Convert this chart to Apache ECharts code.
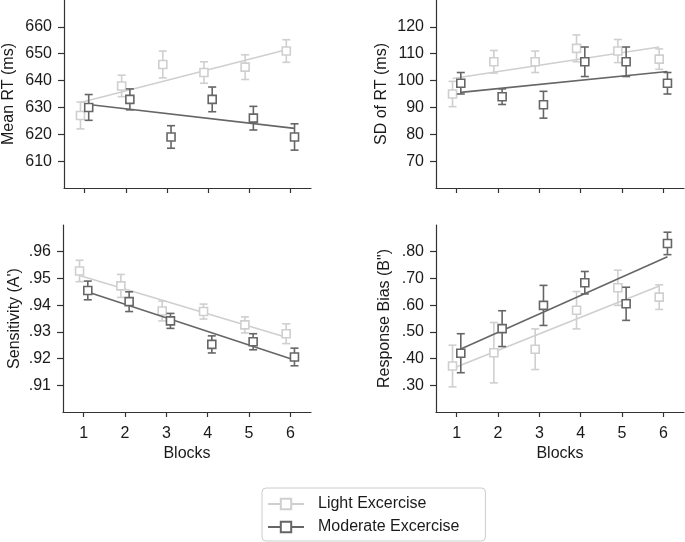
<!DOCTYPE html>
<html>
<head>
<meta charset="utf-8">
<script src="https://cdn.jsdelivr.net/npm/echarts@6/dist/echarts.min.js"></script>
<style>
html, body { margin: 0; padding: 0; background: #fff; }
#chart { width: 685px; height: 542px; }
</style>
</head>
<body>
<div id="chart"></div>
<script>
const blocks = [1, 2, 3, 4, 5, 6];

// Mean RT (ms)
const rtLight = [627, 638, 646, 643, 645, 651];
const rtLightErr = [5, 4, 5, 4, 4.6, 4.2];
const rtModerate = [630, 633, 619, 633, 626, 619];
const rtModerateErr = [4.8, 3.9, 4.2, 4.6, 4.4, 4.9];
const rtLightFit = [631.8, 651.5];
const rtModerateFit = [631.1, 622.2];
const rtTicks = [610, 620, 630, 640, 650, 660];

// SD of RT (ms)
const sdLight = [95, 107, 107, 112, 111, 108];
const sdLightErr = [4.7, 4.2, 4, 5, 4.3, 3.8];
const sdModerate = [99, 94, 91, 107, 107, 99];
const sdModerateErr = [4, 2.9, 5, 5.5, 5.5, 4];
const sdLightFit = [100.8, 112.5];
const sdModerateFit = [95.6, 103.4];
const sdTicks = [70, 80, 90, 100, 110, 120];

// Sensitivity (A')
const senLight = [0.9528, 0.9472, 0.9378, 0.9376, 0.9326, 0.9293];
const senLightErr = [0.004, 0.0043, 0.0037, 0.0028, 0.003, 0.0037];
const senModerate = [0.9455, 0.9413, 0.9341, 0.9253, 0.9263, 0.9206];
const senModerateErr = [0.0035, 0.0037, 0.0028, 0.0032, 0.003, 0.0033];
const senLightFit = [0.9511, 0.9280];
const senModerateFit = [0.9449, 0.9195];
const senTicks = [0.91, 0.92, 0.93, 0.94, 0.95, 0.96];

// Response Bias (B")
const biasLight = [0.372, 0.422, 0.435, 0.581, 0.665, 0.630];
const biasLightErr = [0.078, 0.113, 0.076, 0.07, 0.066, 0.046];
const biasModerate = [0.420, 0.512, 0.599, 0.684, 0.605, 0.831];
const biasModerateErr = [0.073, 0.067, 0.075, 0.042, 0.062, 0.042];
const biasLightFit = [0.363, 0.672];
const biasModerateFit = [0.436, 0.781];
const biasTicks = [0.3, 0.4, 0.5, 0.6, 0.7, 0.8];

const lightColor = '#cfcfcf';
const moderateColor = '#666666';
const textColor = '#1a1a1a';
const font = 'Liberation Sans, Arial, sans-serif';

const panels = [
    {title: 'Mean RT (ms)', min: 600, max: 670, ticks: rtTicks, dec: false, nameGap: 47,
        light: rtLight, lightErr: rtLightErr, mod: rtModerate, modErr: rtModerateErr, lightFit: rtLightFit, modFit: rtModerateFit},
    {title: 'SD of RT (ms)', min: 60, max: 130, ticks: sdTicks, dec: false, nameGap: 46,
        light: sdLight, lightErr: sdLightErr, mod: sdModerate, modErr: sdModerateErr, lightFit: sdLightFit, modFit: sdModerateFit},
    {title: "Sensitivity (A')", min: 0.90, max: 0.97, ticks: senTicks, dec: true, nameGap: 40,
        light: senLight, lightErr: senLightErr, mod: senModerate, modErr: senModerateErr, lightFit: senLightFit, modFit: senModerateFit},
    {title: 'Response Bias (B")', min: 0.20, max: 0.90, ticks: biasTicks, dec: true, nameGap: 43,
        light: biasLight, lightErr: biasLightErr, mod: biasModerate, modErr: biasModerateErr, lightFit: biasLightFit, modFit: biasModerateFit}
];

const grids = [
    {left: 63, top: 0, width: 248, height: 188},
    {left: 436, top: 0, width: 248, height: 188},
    {left: 63, top: 225, width: 248, height: 187},
    {left: 436, top: 225, width: 248, height: 187}
];

function errorBars(params, api) {
    const x = api.value(0);
    const lo = api.coord([x, api.value(1)]);
    const hi = api.coord([x, api.value(2)]);
    const w = 4;
    const style = {stroke: api.visual('color'), lineWidth: 1.6};
    return {
        type: 'group',
        children: [
            {type: 'line', shape: {x1: lo[0], y1: lo[1], x2: hi[0], y2: hi[1]}, style: style},
            {type: 'line', shape: {x1: lo[0] - w, y1: lo[1], x2: lo[0] + w, y2: lo[1]}, style: style},
            {type: 'line', shape: {x1: hi[0] - w, y1: hi[1], x2: hi[0] + w, y2: hi[1]}, style: style}
        ]
    };
}

const axisLine = {show: true, lineStyle: {color: '#333', width: 1.2}};
const xAxes = [], yAxes = [], series = [];

panels.forEach((p, i) => {
    const bottom = i >= 2;
    xAxes.push({
        type: 'value', gridIndex: i, min: 0.5, max: 6.5,
        axisLine: axisLine,
        axisTick: {show: true, length: 5, customValues: blocks, lineStyle: {color: '#333', width: 1.2}},
        axisLabel: {show: bottom, customValues: blocks, margin: 14, fontSize: 16, color: textColor, fontFamily: font},
        splitLine: {show: false},
        name: bottom ? 'Blocks' : '', nameLocation: 'middle', nameGap: 34,
        nameTextStyle: {fontSize: 16, color: textColor, fontFamily: font}
    });
    yAxes.push({
        type: 'value', gridIndex: i, min: p.min, max: p.max,
        axisLine: axisLine,
        axisTick: {show: true, length: 6, customValues: p.ticks, lineStyle: {color: '#333', width: 1.2}},
        axisLabel: {
            customValues: p.ticks, margin: 12, fontSize: 16, color: textColor, fontFamily: font,
            formatter: v => p.dec ? v.toFixed(2).replace(/^0/, '') : String(v)
        },
        splitLine: {show: false},
        name: p.title, nameLocation: 'middle', nameGap: p.nameGap,
        nameTextStyle: {fontSize: 16, color: textColor, fontFamily: font}
    });

    const groups = [
        {name: 'Light Excercise', color: lightColor, off: -0.1, vals: p.light, err: p.lightErr, fit: p.lightFit, z: 2},
        {name: 'Moderate Excercise', color: moderateColor, off: 0.1, vals: p.mod, err: p.modErr, fit: p.modFit, z: 5}
    ];
    groups.forEach(g => {
        series.push({
            type: 'line', name: g.name, xAxisIndex: i, yAxisIndex: i, silent: true,
            data: [[1 + g.off, g.fit[0]], [6 + g.off, g.fit[1]]],
            symbol: 'rect', symbolSize: 8, showSymbol: false,
            lineStyle: {color: g.color, width: 1.6},
            itemStyle: {color: '#fff', borderColor: g.color, borderWidth: 1.8},
            z: g.z
        });
        series.push({
            type: 'custom', name: g.name, xAxisIndex: i, yAxisIndex: i, silent: true,
            renderItem: errorBars,
            itemStyle: {color: g.color},
            data: blocks.map((b, k) => [b + g.off, g.vals[k] - g.err[k], g.vals[k] + g.err[k]]),
            z: g.z + 1
        });
        series.push({
            type: 'scatter', name: g.name, xAxisIndex: i, yAxisIndex: i, silent: true,
            symbol: 'rect', symbolSize: 8,
            itemStyle: {color: '#fff', borderColor: g.color, borderWidth: 1.6, opacity: 1},
            data: blocks.map((b, k) => [b + g.off, g.vals[k]]),
            z: g.z + 2
        });
    });
});

const chart = echarts.init(document.getElementById('chart'), null, {renderer: 'canvas'});
chart.setOption({
    animation: false,
    backgroundColor: '#fff',
    grid: grids,
    xAxis: xAxes,
    yAxis: yAxes,
    legend: {
        data: ['Light Excercise', 'Moderate Excercise'],
        orient: 'vertical', left: 262, top: 488,
        itemWidth: 36, itemHeight: 13, itemGap: 7,
        padding: [8, 26, 6, 5],
        borderColor: '#cccccc', borderWidth: 1, borderRadius: 4,
        selectedMode: false,
        textStyle: {fontSize: 16, color: textColor, fontFamily: font, padding: [0, 0, 0, 9]}
    },
    series: series
});
</script>
</body>
</html>
